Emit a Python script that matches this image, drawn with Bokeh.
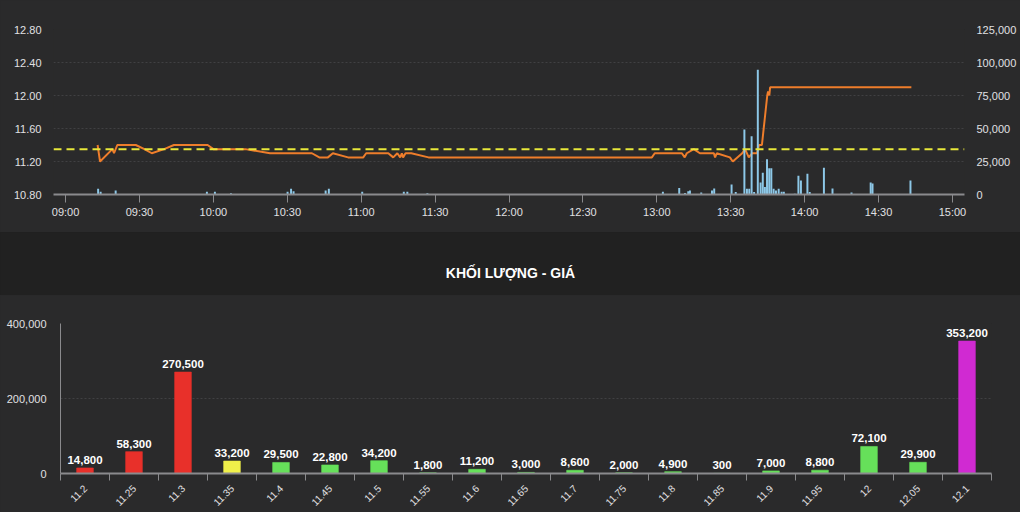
import math
import pandas as pd
from bokeh.plotting import figure
from bokeh.models import (ColumnDataSource, Range1d, LinearAxis, FixedTicker,
                          NumeralTickFormatter, DatetimeTickFormatter, Span)
from bokeh.layouts import column
from bokeh.embed import file_html
from bokeh.resources import INLINE
from bokeh.core.properties import value

# ---------------- data ----------------
DAY = "2024-01-02 "
REF_PRICE = 11.35
CEIL_PRICE = 12.1

price_times = ["09:13:00", "09:14:00", "09:19:00", "09:19:40", "09:21:00", "09:28:30",
               "09:32:00", "09:35:00", "09:40:00", "09:44:00", "09:57:40", "10:00:00",
               "10:13:00", "10:23:00", "10:40:00", "10:43:00", "10:46:30", "10:48:30",
               "10:54:40", "11:00:50", "11:02:00", "11:11:00", "11:13:00", "11:14:40",
               "11:15:50", "11:16:30", "11:17:00", "11:18:00", "11:20:20", "11:27:20",
               "12:58:00", "12:59:10", "13:10:10", "13:11:20", "13:12:10", "13:15:00",
               "13:17:30", "13:23:10", "13:23:40", "13:24:20", "13:29:40", "13:30:50",
               "13:34:40", "13:35:50", "13:37:20", "13:38:40", "13:40:40", "13:41:30",
               "13:42:40", "13:44:50", "13:45:10", "13:45:40", "13:46:00", "14:43:20"]
price_values = [11.40, 11.20, 11.35, 11.30, 11.40, 11.40,
                11.35, 11.30, 11.35, 11.40, 11.40, 11.35,
                11.35, 11.30, 11.30, 11.25, 11.25, 11.30,
                11.25, 11.25, 11.30, 11.30, 11.25, 11.30,
                11.25, 11.30, 11.25, 11.30, 11.30, 11.25,
                11.25, 11.30, 11.30, 11.25, 11.30, 11.35,
                11.30, 11.30, 11.25, 11.30, 11.25, 11.20,
                11.30, 11.35, 11.25, 11.30, 11.30, 11.40,
                11.40, 12.00, 12.05, 12.00, 12.10, 12.10]

vol_times = ["09:13:13", "09:14:14", "09:20:20", "09:57:22", "10:00:37", "10:07:08",
             "10:30:07", "10:31:32", "10:32:33", "10:45:34", "10:46:52", "11:00:25",
             "11:17:18", "11:18:44", "11:26:52", "13:02:28", "13:09:06", "13:11:26",
             "13:12:46", "13:13:27", "13:18:02", "13:22:24", "13:23:18", "13:30:21",
             "13:32:02", "13:35:33", "13:36:35", "13:37:32", "13:38:29", "13:39:30",
             "13:41:00", "13:42:08", "13:43:01", "13:43:52", "13:44:44", "13:45:38",
             "13:46:29", "13:47:25", "13:48:22", "13:49:28", "13:50:40", "13:51:34",
             "13:56:00", "13:57:29", "13:58:30", "14:01:08", "14:02:04", "14:07:50",
             "14:11:19", "14:19:02", "14:26:49", "14:27:34", "14:42:58"]
vol_values = [4300, 2000, 3000, 2000, 2000, 1000,
              2000, 4300, 2500, 3000, 4300, 2000,
              2000, 2000, 1000, 2000, 5000, 1200,
              2500, 3000, 1500, 3000, 4600, 7600,
              1800, 49300, 4300, 4300, 44200, 1800,
              94500, 9100, 16500, 5600, 26700, 19800,
              19800, 4300, 3000, 4300, 2000, 2000,
              500, 14200, 10700, 15700, 1800, 20300,
              4600, 1500, 9100, 8400, 10700]

time_ticks = ["09:00", "09:30", "10:00", "10:30", "11:00", "11:30", "12:00",
              "12:30", "13:00", "13:30", "14:00", "14:30", "15:00"]
price_ticks = [10.8, 11.2, 11.6, 12.0, 12.4, 12.8]
vol_ticks = [0, 25000, 50000, 75000, 100000, 125000]

level_labels = ["11.2", "11.25", "11.3", "11.35", "11.4", "11.45", "11.5", "11.55",
                "11.6", "11.65", "11.7", "11.75", "11.8", "11.85", "11.9", "11.95",
                "12", "12.05", "12.1"]
level_volumes = [14800, 58300, 270500, 33200, 29500, 22800, 34200, 1800,
                 11200, 3000, 8600, 2000, 4900, 300, 7000, 8800,
                 72100, 29900, 353200]
level_vol_ticks = [0, 200000, 400000]

# ---------------- styles ----------------
BG = "#2a2a2b"
BAND = "#212121"
LABEL = "#e0e0e3"
AXIS = "#8a8a8d"
GRID = "#404043"
FONT = "Liberation Sans"


def ts(t):
    return pd.Timestamp(DAY + t)


def style_axis(ax, size="11px"):
    ax.major_label_text_color = LABEL
    ax.major_label_text_font = FONT
    ax.major_label_text_font_size = size
    ax.minor_tick_line_color = None


# ---------------- top chart ----------------
x_start = ts("09:00") - pd.Timedelta(minutes=4.9)
x_end = ts("15:00") + pd.Timedelta(minutes=4.9)

top = figure(width=1020, height=232, x_axis_type="datetime",
             x_range=Range1d(x_start, x_end), y_range=Range1d(10.8, 12.8),
             output_backend="svg", toolbar_location=None, frame_align=False,
             background_fill_color=BG, border_fill_color=BG, outline_line_color=None,
             min_border_left=53, min_border_right=56, min_border_top=29, min_border_bottom=38,
             styles={"background-color": BG})
top.extra_y_ranges = {"vol": Range1d(0, 125000)}

vol_src = ColumnDataSource(dict(t=[ts(t) for t in vol_times], v=vol_values))
price_src = ColumnDataSource(dict(t=[ts(t) for t in price_times], p=price_values))

top.line("t", "p", source=price_src, line_color="#ee7d2b", line_width=2)
top.vbar(x="t", top="v", bottom=0, width=48000, source=vol_src, y_range_name="vol",
         fill_color="#8dc8e8", line_color=None)
top.add_layout(Span(location=REF_PRICE, dimension="width", line_color="#e8e83a",
                    line_width=2, line_dash="8 5"))

xa = top.xaxis[0]
xa.ticker = FixedTicker(ticks=[ts(t).value // 10**6 for t in time_ticks])
xa.formatter = DatetimeTickFormatter(hours="%H:%M", hourmin="%H:%M", minutes="%H:%M",
                                     minsec="%H:%M")
style_axis(xa)
xa.axis_line_color = AXIS
xa.axis_line_width = 2
xa.major_tick_line_color = AXIS
xa.major_tick_out = 8
xa.major_tick_in = 0
xa.major_label_standoff = 3

ya = top.yaxis[0]
ya.ticker = FixedTicker(ticks=price_ticks)
ya.formatter = NumeralTickFormatter(format="0.00")
style_axis(ya)
ya.axis_line_color = None
ya.major_tick_line_color = None
ya.major_tick_out = 0
ya.major_label_standoff = 12

ra = LinearAxis(y_range_name="vol", ticker=FixedTicker(ticks=vol_ticks),
                formatter=NumeralTickFormatter(format="0,0"))
style_axis(ra)
ra.axis_line_color = None
ra.major_tick_line_color = None
ra.major_tick_out = 0
ra.major_label_standoff = 12
top.add_layout(ra, "right")

top.xgrid.grid_line_color = None
top.ygrid.grid_line_color = GRID
top.ygrid.grid_line_dash = "2 2"
top.ygrid.ticker = FixedTicker(ticks=price_ticks)

# ---------------- title band ----------------
mid = figure(width=1020, height=63, x_range=Range1d(0, 1), y_range=Range1d(0, 1),
             output_backend="svg", toolbar_location=None, frame_align=False,
             x_axis_location=None, y_axis_location=None,
             background_fill_color=BAND, border_fill_color=BAND, outline_line_color=None,
             min_border_left=0, min_border_right=0, min_border_top=0, min_border_bottom=0,
             styles={"background-color": BAND})
mid.grid.grid_line_color = None
mid.text(x=[0.5], y=[0.354], text=["KHỐI LƯỢNG - GIÁ"], text_align="center",
         text_baseline="middle", text_color="#ffffff", text_font=value(FONT),
         text_font_style="bold", text_font_size="14px")

# ---------------- bottom chart ----------------
def level_color(lbl):
    p = float(lbl)
    if abs(p - CEIL_PRICE) < 1e-9:
        return "#d02ad2"
    if abs(p - REF_PRICE) < 1e-9:
        return "#f0f04a"
    if p < REF_PRICE:
        return "#e8302a"
    return "#66e05a"


idx = list(range(len(level_labels)))
bot_src = ColumnDataSource(dict(
    x=idx, v=level_volumes,
    c=[level_color(l) for l in level_labels],
    lab=["{:,}".format(v) for v in level_volumes]))

bot = figure(width=1020, height=217, x_range=Range1d(-0.5, len(idx) - 0.5),
             y_range=Range1d(0, 400000),
             output_backend="svg", toolbar_location=None, frame_align=False,
             background_fill_color=BG, border_fill_color=BG, outline_line_color=None,
             min_border_left=60, min_border_right=29, min_border_top=28, min_border_bottom=38,
             styles={"background-color": BG})
bot.vbar(x="x", top="v", bottom=0, width=0.34, source=bot_src,
         fill_color="c", line_color="c", line_alpha=0.6)
bot.text(x="x", y="v", text="lab", source=bot_src, y_offset=-4,
         text_align="center", text_baseline="bottom", text_color="#ffffff",
         text_font=value(FONT), text_font_style="bold", text_font_size="11.5px")

bx = bot.xaxis[0]
bx.ticker = FixedTicker(ticks=idx, minor_ticks=[i - 0.5 for i in range(len(idx) + 1)])
bx.major_label_overrides = {i: l for i, l in zip(idx, level_labels)}
style_axis(bx, "10px")
bx.minor_tick_line_color = AXIS
bx.minor_tick_out = 7
bx.minor_tick_in = 0
bx.major_tick_line_color = None
bx.major_tick_out = 0
bx.major_label_orientation = math.pi / 4
bx.major_label_standoff = 6
bx.axis_line_color = AXIS
bx.axis_line_width = 2

by = bot.yaxis[0]
by.ticker = FixedTicker(ticks=level_vol_ticks)
by.formatter = NumeralTickFormatter(format="0,0")
style_axis(by)
by.axis_line_color = AXIS
by.major_tick_line_color = None
by.major_tick_out = 0
by.major_label_standoff = 14

bot.xgrid.grid_line_color = None
bot.ygrid.grid_line_color = GRID
bot.ygrid.grid_line_dash = "2 2"
bot.ygrid.ticker = FixedTicker(ticks=level_vol_ticks)

p = column(top, mid, bot, spacing=0, styles={"background-color": BG})
open("out.html", "w").write(file_html(p, INLINE))
